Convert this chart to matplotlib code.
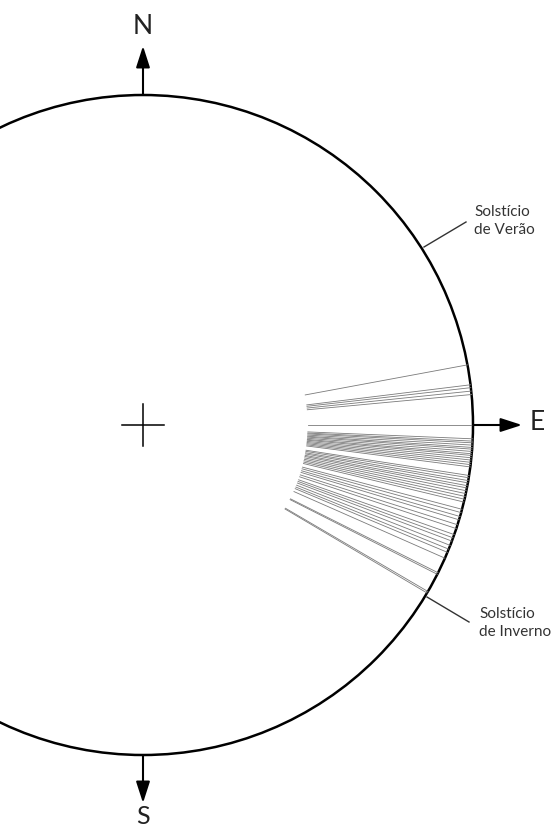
import numpy as np
import matplotlib.pyplot as plt
from matplotlib.patches import Circle

# sight-line azimuths, degrees north (+) / south (-) of due east
upper_angles = [10.5, 7.0, 6.5, 5.9, 5.3, 0.0]
band_a = [-2.4, -2.8, -3.1, -3.5, -3.9, -4.2, -4.6, -5.0, -5.3, -5.7,
          -6.1, -6.5, -6.9, -7.3]
band_b = [-8.8, -9.2, -9.7, -10.1, -10.6, -11.0, -11.5, -12.0, -12.5,
          -13.0, -13.5]
lower_angles = [-14.8, -15.4, -16.1, -16.7, -17.6, -18.3, -19.4, -20.0,
                -20.6, -21.4, -22.1, -22.7, -23.8, -26.6, -26.9, -30.3,
                -30.6]

cardinals = ['N', 'E', 'S']
solstice_labels = ['Solstício\nde Verão', 'Solstício\nde Inverno']

plt.rcParams['font.family'] = ['Lato', 'DejaVu Sans']

fig = plt.figure(figsize=(5.6, 8.31), dpi=100)
ax = fig.add_axes([0, 0, 1, 1])
ax.set_xlim(0, 560)
ax.set_ylim(831, 0)
ax.set_aspect('equal')
ax.axis('off')

cx, cy, R = 143, 425, 330
r_in = 165

ax.add_patch(Circle((cx, cy), R, fill=False, lw=1.8, color='black'))

angles = np.radians(np.array(upper_angles + band_a + band_b + lower_angles))
for a in angles:
    ax.plot([cx + r_in * np.cos(a), cx + R * np.cos(a)],
            [cy - r_in * np.sin(a), cy - R * np.sin(a)],
            color='#7a7a7a', lw=0.6)

# centre cross
ax.plot([cx - 21, cx + 21], [cy, cy], color='black', lw=1.1)
ax.plot([cx, cx], [cy - 21, cy + 21], color='black', lw=1.1)

arrow = dict(arrowstyle='-|>,head_length=1.3,head_width=0.42',
             color='black', lw=1.5, shrinkA=0, shrinkB=0)
ax.annotate('', xy=(cx, 46), xytext=(cx, cy - R), arrowprops=arrow)
ax.annotate('', xy=(cx, 803), xytext=(cx, cy + R), arrowprops=arrow)
ax.annotate('', xy=(522, cy), xytext=(cx + R, cy), arrowprops=arrow)

ax.text(cx, 27, cardinals[0], fontsize=19, ha='center', va='center',
        color='#222222')
ax.text(537, 423, cardinals[1], fontsize=19, ha='center', va='center',
        color='#222222')
ax.text(cx, 816, cardinals[2], fontsize=18, ha='center', va='center',
        color='#222222')

# solstice leaders
ax.plot([424, 466], [247, 222], color='#333333', lw=1.0)
ax.plot([427, 469], [597, 622], color='#333333', lw=1.0)
ax.text(474, 221, solstice_labels[0], fontsize=11, color='#333333',
        ha='left', va='center', linespacing=1.3)
ax.text(479, 623, solstice_labels[1], fontsize=11, color='#333333',
        ha='left', va='center', linespacing=1.3)

fig.savefig('out.png', dpi=100)
